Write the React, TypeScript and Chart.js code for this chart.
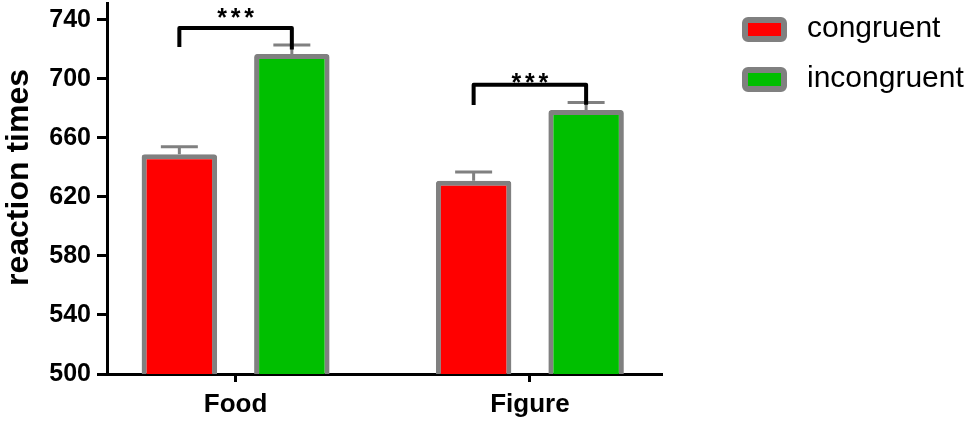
import React, { useEffect, useRef } from 'react';
import { Chart, registerables } from 'chart.js';

Chart.register(...registerables);

// ---- data ----
const categories = ['Food', 'Figure'];
const seriesNames = ['congruent', 'incongruent'];
const congruent = [649, 631];
const incongruent = [717, 679];
const congruentErr = [5, 6];
const incongruentErr = [6, 5];
const yTicks = [500, 540, 580, 620, 660, 700, 740];
const yTitle = 'reaction times';
// significance brackets (data units)
const bracketLabels = ['***', '***'];
const bracketY = [734.6, 696];
const bracketLeftEnd = [721.7, 682.4];
const bracketRightEnd = [720, 682.6];
const starCenterY = [745, 701.5];

const FONT = "'Liberation Sans', Arial, Helvetica, sans-serif";
const RED = '#ff0000';
const GREEN = '#00bf00';
const GRAY = '#808080';

const errorBarsPlugin = {
  id: 'errorBars',
  afterDatasetsDraw(chart: any) {
    const ctx = chart.ctx;
    const ys = chart.scales.y;
    chart.data.datasets.forEach((ds: any, di: number) => {
      const meta = chart.getDatasetMeta(di);
      meta.data.forEach((bar: any, i: number) => {
        const p = bar.getProps(['x', 'y', 'width'], true);
        const capY = ys.getPixelForValue(ds.data[i].y + ds.errors[i]);
        const half = p.width * 0.245;
        ctx.save();
        ctx.strokeStyle = GRAY;
        ctx.lineWidth = 3;
        ctx.beginPath();
        ctx.moveTo(p.x, p.y);
        ctx.lineTo(p.x, capY);
        ctx.moveTo(p.x - half, capY);
        ctx.lineTo(p.x + half, capY);
        ctx.stroke();
        ctx.restore();
      });
    });
  },
};

const bracketsPlugin = {
  id: 'brackets',
  afterDatasetsDraw(chart: any) {
    const ctx = chart.ctx;
    const ys = chart.scales.y;
    const m0 = chart.getDatasetMeta(0);
    const m1 = chart.getDatasetMeta(1);
    bracketLabels.forEach((label, g) => {
      const xl = m0.data[g].x;
      const xr = m1.data[g].x;
      const yb = ys.getPixelForValue(bracketY[g]);
      ctx.save();
      ctx.strokeStyle = '#000';
      ctx.lineWidth = 4;
      ctx.lineJoin = 'round';
      ctx.beginPath();
      ctx.moveTo(xl, ys.getPixelForValue(bracketLeftEnd[g]));
      ctx.lineTo(xl, yb);
      ctx.lineTo(xr, yb);
      ctx.lineTo(xr, ys.getPixelForValue(bracketRightEnd[g]));
      ctx.stroke();
      // stars
      const fs = 25;
      ctx.fillStyle = '#000';
      ctx.font = `bold ${fs}px ${FONT}`;
      ctx.textAlign = 'center';
      ctx.textBaseline = 'alphabetic';
      const cx = (xl + xr) / 2;
      const cy = ys.getPixelForValue(starCenterY[g]) + fs * 0.55;
      const chars = label.split('');
      const step = 13.5;
      chars.forEach((ch, k) => {
        ctx.fillText(ch, cx + (k - (chars.length - 1) / 2) * step, cy);
      });
      ctx.restore();
    });
  },
};

const legendTitlePlugin = {
  id: 'legendTitle',
  afterDraw(chart: any) {
    const ctx = chart.ctx;
    const area = chart.chartArea;
    // y axis title
    ctx.save();
    ctx.translate(19, 177.5);
    ctx.rotate(-Math.PI / 2);
    ctx.font = `bold 32px ${FONT}`;
    ctx.fillStyle = '#000';
    ctx.textAlign = 'center';
    ctx.textBaseline = 'middle';
    ctx.fillText(yTitle, 0, 0);
    ctx.restore();
    // legend
    const left = area.right + 80;
    const top = 17;
    chart.data.datasets.forEach((ds: any, i: number) => {
      const bx = left;
      const by = top + i * 50;
      const lw = 6;
      ctx.save();
      ctx.beginPath();
      const x0 = bx + lw / 2, y0 = by + lw / 2, w = 45 - lw, h = 25 - lw, r = 3;
      ctx.moveTo(x0 + r, y0);
      ctx.lineTo(x0 + w - r, y0);
      ctx.arcTo(x0 + w, y0, x0 + w, y0 + r, r);
      ctx.lineTo(x0 + w, y0 + h - r);
      ctx.arcTo(x0 + w, y0 + h, x0 + w - r, y0 + h, r);
      ctx.lineTo(x0 + r, y0 + h);
      ctx.arcTo(x0, y0 + h, x0, y0 + h - r, r);
      ctx.lineTo(x0, y0 + r);
      ctx.arcTo(x0, y0, x0 + r, y0, r);
      ctx.closePath();
      ctx.fillStyle = ds.backgroundColor;
      ctx.fill();
      ctx.strokeStyle = GRAY;
      ctx.lineWidth = lw;
      ctx.stroke();
      ctx.font = `30px ${FONT}`;
      ctx.fillStyle = '#000';
      ctx.textAlign = 'left';
      ctx.textBaseline = 'alphabetic';
      ctx.fillText(ds.label, bx + 65, by + 20);
      ctx.restore();
    });
  },
};

export default function App() {
  const ref = useRef<HTMLCanvasElement | null>(null);
  useEffect(() => {
    document.body.style.margin = '0';
    const canvas = ref.current;
    if (!canvas) return;
    const chart = new Chart(canvas, {
      type: 'bar',
      data: {
        datasets: [
          {
            label: seriesNames[0],
            data: congruent.map((v, i) => ({ x: i, y: v })),
            errors: congruentErr,
            backgroundColor: RED,
            borderColor: GRAY,
            borderWidth: 5,
            borderRadius: 3,
          } as any,
          {
            label: seriesNames[1],
            data: incongruent.map((v, i) => ({ x: i, y: v })),
            errors: incongruentErr,
            backgroundColor: GREEN,
            borderColor: GRAY,
            borderWidth: 5,
            borderRadius: 3,
          } as any,
        ],
      },
      options: {
        responsive: false,
        animation: false,
        devicePixelRatio: 1,
        categoryPercentage: 0.7645,
        barPercentage: 0.671,
        layout: { padding: { top: 3, right: 311, left: 0, bottom: 0 } },
        plugins: {
          legend: { display: false },
          tooltip: { enabled: false },
          title: { display: false },
        },
        scales: {
          x: {
            type: 'linear',
            min: -0.437,
            max: 1.449,
            offset: false,
            z: 1,
            afterFit: (s: any) => {
              s.height = 48;
              s.paddingLeft = 0;
              s.paddingRight = 0;
            },
            afterBuildTicks: (s: any) => {
              s.ticks = categories.map((_, i) => ({ value: i }));
            },
            ticks: {
              callback: (v: any) => categories[v as number] ?? '',
              font: { family: FONT, size: 26, weight: 'bold' },
              color: '#000',
              padding: 7,
              maxRotation: 0,
              autoSkip: false,
            },
            grid: {
              display: true,
              offset: false,
              drawOnChartArea: false,
              tickLength: 8,
              tickWidth: 3,
              tickColor: '#000',
            },
            border: { display: true, color: '#000', width: 3 },
          } as any,
          y: {
            type: 'linear',
            min: 500,
            max: 751.5,
            z: 1,
            afterFit: (s: any) => {
              s.width = 107;
              s.paddingTop = 0;
              s.paddingBottom = 0;
            },
            afterBuildTicks: (s: any) => {
              s.ticks = yTicks.map((v) => ({ value: v }));
            },
            ticks: {
              font: { family: FONT, size: 25, weight: 'bold' },
              color: '#000',
              padding: 6,
            },
            grid: {
              display: true,
              drawOnChartArea: false,
              tickLength: 10,
              tickWidth: 3,
              tickColor: '#000',
            },
            border: { display: true, color: '#000', width: 3 },
          } as any,
        },
      },
      plugins: [errorBarsPlugin, bracketsPlugin, legendTitlePlugin],
    });
    return () => chart.destroy();
  }, []);
  return (
    <div style={{ width: 973, height: 422 }}>
      <canvas ref={ref} width={973} height={422} style={{ display: 'block' }} />
    </div>
  );
}
